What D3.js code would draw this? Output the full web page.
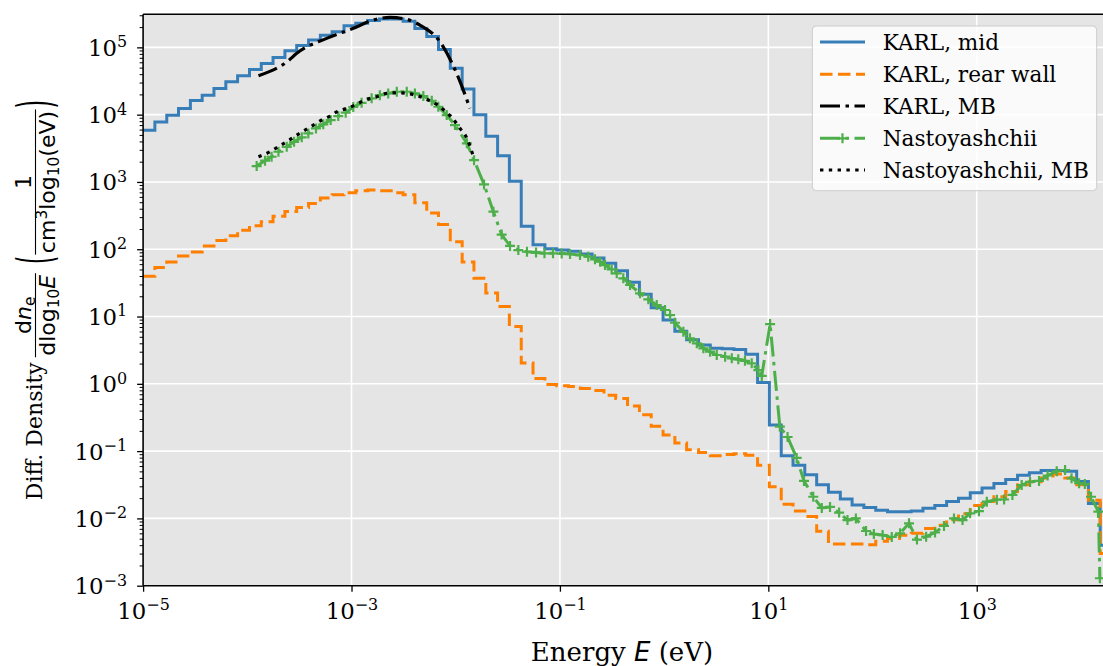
<!DOCTYPE html>
<html><head><meta charset="utf-8">
<script src="https://cdn.jsdelivr.net/npm/d3@7"></script>
<style>body{margin:0;background:#fff}</style>
</head><body><svg id="chart" width="1103" height="666" xmlns="http://www.w3.org/2000/svg"></svg>
<script>
// ---------------- DATA ----------------
// histogram bin edges (log10 of energy in eV)
const binEdgeExp = [-5.000,-4.887,-4.773,-4.660,-4.546,-4.433,-4.320,-4.206,-4.093,-3.979,-3.866,-3.753,-3.639,-3.526,-3.412,-3.299,-3.186,-3.072,-2.959,-2.845,-2.732,-2.619,-2.505,-2.392,-2.278,-2.165,-2.052,-1.938,-1.825,-1.711,-1.598,-1.485,-1.371,-1.258,-1.144,-1.031,-0.918,-0.804,-0.691,-0.577,-0.464,-0.351,-0.237,-0.124,-0.010,0.103,0.216,0.330,0.443,0.557,0.670,0.783,0.897,1.010,1.124,1.237,1.350,1.464,1.577,1.691,1.804,1.917,2.031,2.144,2.258,2.371,2.484,2.598,2.711,2.825,2.938,3.051,3.165,3.278,3.392,3.505,3.618,3.732,3.845,3.959,4.072,4.185,4.299];
// KARL, mid (per bin)
const karlMid = [5890,7760,9770,12300,16200,19500,24500,30900,38000,46800,57500,70800,89100,107000,129000,151000,170000,209000,229000,251000,263000,263000,245000,191000,145000,93300,49000,24000,10000,4790,2450,1020,219,117,102,97.7,93.3,85.1,74.1,61.7,47.9,32.4,21.4,13.5,8.91,6.03,4.52,3.78,3.39,3.31,3.24,2.75,1.05,0.245,0.0851,0.0617,0.0447,0.0316,0.0245,0.0195,0.0158,0.0145,0.0132,0.0126,0.0126,0.0129,0.0141,0.0155,0.0178,0.0200,0.0240,0.0282,0.0331,0.0380,0.0437,0.0479,0.0513,0.0513,0.0501,0.0355,0.0166,0.004];
// KARL, rear wall (per bin)
const karlRear = [39.8,53.7,64.6,79.4,91.2,112,135,158,191,224,257,309,363,417,479,575,646,692,741,759,741,692,646,490,347,234,129,64.6,37.2,22.4,14.1,7.08,2.04,1.20,0.977,0.933,0.912,0.851,0.794,0.676,0.603,0.468,0.347,0.234,0.174,0.132,0.105,0.0955,0.0851,0.0891,0.0912,0.0871,0.0617,0.0295,0.0162,0.0129,0.0107,0.00646,0.00417,0.00417,0.00417,0.00407,0.00457,0.00501,0.00562,0.00603,0.00708,0.00794,0.00955,0.0117,0.0155,0.0178,0.0209,0.0251,0.0316,0.0351,0.0398,0.0457,0.0398,0.0316,0.0186,0.003];
// Nastoyashchii
const nastE = [1.23e-4,1.48e-4,1.71e-4,1.99e-4,2.39e-4,2.81e-4,3.33e-4,3.85e-4,4.56e-4,5.36e-4,6.31e-4,7.46e-4,8.79e-4,1.04e-3,1.25e-3,1.56e-3,1.87e-3,2.25e-3,2.72e-3,3.39e-3,4.06e-3,4.89e-3,5.89e-3,6.81e-3,8.20e-3,9.84e-3,1.28e-2,1.50e-2,1.87e-2,2.30e-2,2.76e-2,3.32e-2,3.99e-2,4.83e-2,5.90e-2,7.11e-2,8.59e-2,0.104,0.125,0.156,0.187,0.217,0.243,0.271,0.314,0.351,0.406,0.471,0.587,0.705,0.849,1.02,1.14,1.27,1.53,1.77,2.06,2.38,2.76,3.20,3.85,4.46,5.15,5.97,6.93,8.02,8.65,10.4,12.9,15.3,18.7,22.0,27.0,32.6,39.1,47.8,57.5,69.2,86.7,103,125,153,184,224,267,327,398,485,605,731,863,1050,1250,1560,1830,2200,2700,3250,3960,4790,5860,7050,8130,9600,10900,12500,14700,15200];
const nastV = [1720,2070,2370,2810,3330,3950,4600,5270,6250,7180,8320,9530,10700,13000,15000,17500,19500,20700,21900,21900,20700,18900,16100,13100,9860,7000,3750,2110,920,361,165,112,97.3,91.8,89.3,86.9,86.9,86.3,84.9,82.0,77.4,70.8,65.2,58.2,50.2,43.9,37.0,29.4,22.1,18.0,14.8,12.5,10.5,8.09,5.94,4.74,4.00,3.37,3.00,2.68,2.53,2.39,2.31,2.20,2.02,1.60,1.31,7.73,0.231,0.162,0.0791,0.0360,0.0210,0.0143,0.0148,0.0122,0.00946,0.0100,0.00650,0.00586,0.00566,0.00530,0.00601,0.00845,0.00485,0.00535,0.00617,0.00771,0.00998,0.00946,0.0119,0.0128,0.0177,0.0190,0.0191,0.0223,0.0313,0.0348,0.0360,0.0434,0.0502,0.0524,0.0394,0.0333,0.0324,0.0210,0.0126,0.00129];
// KARL, MB
const karlMbE = [1.28e-4,2.47e-4,2.98e-4,5.78e-4,1.03e-3,1.62e-3,2.34e-3,3.39e-3,4.54e-3,7.06e-3,1.02e-2,1.37e-2];
const karlMbV = [3.78e4,6.31e4,8.15e4,1.36e5,1.91e5,2.55e5,2.79e5,2.61e5,2.14e5,1.21e5,4.11e4,1.24e4];
// Nastoyashchii, MB
const nastMbE = [1.28e-4,1.65e-4,1.98e-4,2.47e-4,2.98e-4,3.58e-4,4.30e-4,5.18e-4,6.22e-4,7.21e-4,8.99e-4,1.08e-3,1.35e-3,1.75e-3,2.18e-3,2.72e-3,3.39e-3,4.38e-3,5.46e-3,6.58e-3,7.89e-3,9.48e-3,1.10e-2,1.28e-2,1.48e-2];
const nastMbV = [2370,2810,3330,4090,4980,5900,7000,8320,9530,11000,12400,13900,16500,18500,20700,21100,20700,18900,16500,14200,11300,8510,6250,4450,2370];
// ticks & legend
const xTickExp = [-5,-3,-1,1,3];
const yTickExp = [-3,-2,-1,0,1,2,3,4,5];
const legendLabels = ["KARL, mid","KARL, rear wall","KARL, MB","Nastoyashchii","Nastoyashchii, MB"];

// ---------------- CHART ----------------
const C = {blue:"#377eb8", orange:"#ff7f00", green:"#4daf4a", black:"#000"};
const SERIF = "'DejaVu Serif', serif";
const SANS = "'DejaVu Sans', sans-serif";
const FS = 22;        // y-label
const TFS = 22.8;     // tick labels
const LFS = 21.6;     // legend
const XFS = 26;       // x-label

const svg = d3.select("#chart");
const L = 143.1, T = 14.3, B = 585.7, R = 1112.3;
const x = d3.scaleLog().domain([1e-5, 2e4]).range([L, R]);
const y = d3.scaleLog().domain([1e-3, 3.1e5]).range([B, T]);

svg.append("rect").attr("x",0).attr("y",0).attr("width",1103).attr("height",666).attr("fill","#fff");
svg.append("rect").attr("x",L).attr("y",T).attr("width",R-L).attr("height",B-T).attr("fill","#e5e5e5");

svg.append("defs").append("clipPath").attr("id","clip")
  .append("rect").attr("x",L).attr("y",T).attr("width",R-L).attr("height",B-T);

// grid
const grid = svg.append("g");
grid.selectAll("line.gx").data(xTickExp.map(e=>Math.pow(10,e))).join("line")
  .attr("x1",d=>x(d)).attr("x2",d=>x(d)).attr("y1",T).attr("y2",B)
  .attr("stroke","#fff").attr("stroke-width",1.6);
grid.selectAll("line.gy").data(yTickExp.map(e=>Math.pow(10,e))).join("line")
  .attr("y1",d=>y(d)).attr("y2",d=>y(d)).attr("x1",L).attr("x2",R)
  .attr("stroke","#fff").attr("stroke-width",1.6);

const plot = svg.append("g").attr("clip-path","url(#clip)");
const edges = binEdgeExp.map(e=>Math.pow(10,e));
function stepPts(vals){
  const pts = vals.map((v,i)=>[edges[i], v]);
  pts.push([edges[vals.length], vals[vals.length-1]]);
  return pts;
}
const stepLine = d3.line().x(d=>x(d[0])).y(d=>y(d[1])).curve(d3.curveStepAfter);
const smooth = d3.line().x(d=>x(d[0])).y(d=>y(d[1])).curve(d3.curveMonotoneX);
const plain = d3.line().x(d=>x(d[0])).y(d=>y(d[1]));

const DASH = "12.5,5.5", DASHDOT = "20,5.5,3.5,5.5", DOT = "3.4,5.4";

plot.append("path").attr("d", stepLine(stepPts(karlMid)))
  .attr("fill","none").attr("stroke",C.blue).attr("stroke-width",3);
plot.append("path").attr("d", stepLine(stepPts(karlRear)))
  .attr("fill","none").attr("stroke",C.orange).attr("stroke-width",3).attr("stroke-dasharray",DASH);
plot.append("path").attr("d", smooth(karlMbE.map((e,i)=>[e,karlMbV[i]])))
  .attr("fill","none").attr("stroke",C.black).attr("stroke-width",3.2).attr("stroke-dasharray",DASHDOT);
const nastPts = nastE.map((e,i)=>[e,nastV[i]]);
plot.append("path").attr("d", plain(nastPts))
  .attr("fill","none").attr("stroke",C.green).attr("stroke-width",3).attr("stroke-dasharray",DASHDOT);
const plus = "M-5,0H5M0,-5V5";
plot.selectAll("path.mk").data(nastPts).join("path")
  .attr("d",plus).attr("transform",d=>`translate(${x(d[0])},${y(d[1])})`)
  .attr("stroke",C.green).attr("stroke-width",2.2).attr("fill","none");
plot.append("path").attr("d", smooth(nastMbE.map((e,i)=>[e,nastMbV[i]])))
  .attr("fill","none").attr("stroke",C.black).attr("stroke-width",3.2).attr("stroke-dasharray",DOT);

// spines
svg.append("line").attr("x1",L).attr("x2",L).attr("y1",T).attr("y2",B).attr("stroke","#000").attr("stroke-width",1.6);
svg.append("line").attr("x1",L).attr("x2",R).attr("y1",B).attr("y2",B).attr("stroke","#000").attr("stroke-width",1.6);
svg.append("line").attr("x1",L).attr("x2",R).attr("y1",T).attr("y2",T).attr("stroke","#000").attr("stroke-width",1.6);

// axes
const supLabel = (sel, e) => {
  sel.text(null);
  sel.append("tspan").text("10");
  sel.append("tspan").attr("dy",-TFS*0.38).attr("font-size",TFS*0.7).text(e<0 ? "\u2212"+Math.abs(e) : String(e));
};
const xAx = svg.append("g").attr("transform",`translate(0,${B})`)
  .call(d3.axisBottom(x).tickValues(xTickExp.map(e=>Math.pow(10,e))).tickSizeInner(6).tickSizeOuter(0).tickPadding(10).tickFormat(""));
xAx.select(".domain").remove();
xAx.selectAll(".tick line").attr("stroke","#000").attr("stroke-width",1.3);
xAx.selectAll(".tick text").each(function(d,i){
  const s = d3.select(this).attr("font-family",SERIF).attr("font-size",TFS).attr("fill","#000").attr("y",33).attr("dy",0);
  supLabel(s, xTickExp[i]);
});

const yAx = svg.append("g").attr("transform",`translate(${L},0)`)
  .call(d3.axisLeft(y).tickValues(yTickExp.map(e=>Math.pow(10,e))).tickSizeInner(6).tickSizeOuter(0).tickPadding(10).tickFormat(""));
yAx.select(".domain").remove();
yAx.selectAll(".tick line").attr("stroke","#000").attr("stroke-width",1.3);
yAx.selectAll(".tick text").each(function(d,i){
  const s = d3.select(this).attr("font-family",SERIF).attr("font-size",TFS).attr("fill","#000").attr("x",-16).attr("dy",0).attr("y",8).attr("text-anchor","end");
  supLabel(s, yTickExp[i]);
});
const minors = [];
yTickExp.slice(0,-1).forEach(e=>{ for(let m=2;m<10;m++) minors.push(m*Math.pow(10,e)); });
for(let m=2;m<4;m++) minors.push(m*1e5);
const yMin = svg.append("g").attr("transform",`translate(${L},0)`)
  .call(d3.axisLeft(y).tickValues(minors).tickSizeInner(3.5).tickSizeOuter(0).tickFormat(""));
yMin.select(".domain").remove();
yMin.selectAll(".tick line").attr("stroke","#000").attr("stroke-width",1);

// x label
const xl = svg.append("text").attr("x",622).attr("y",661).attr("text-anchor","middle")
  .attr("font-family",SERIF).attr("font-size",XFS).attr("fill","#000");
xl.append("tspan").text("Energy ");
xl.append("tspan").attr("font-family",SANS).attr("font-style","italic").text("E");
xl.append("tspan").text(" (eV)");

// y label (rotated)
const yl = svg.append("g");
const inner = yl.append("g");
let cx = 0;
const t1 = inner.append("text").attr("x",0).attr("y",42).attr("font-family",SERIF).attr("font-size",FS).text("Diff. Density");
cx += t1.node().getComputedTextLength() + 5;
const BAR = 35.5;
function frac(x0, numFn, denFn){
  const num = inner.append("text").attr("font-family",SANS).attr("font-size",FS).attr("y",BAR-5);
  numFn(num);
  const den = inner.append("text").attr("font-family",SANS).attr("font-size",FS).attr("y",BAR+19.5);
  denFn(den);
  const wn = num.node().getComputedTextLength(), wd = den.node().getComputedTextLength();
  const w = Math.max(wn,wd) + 3;
  num.attr("x", x0 + (w-wn)/2);
  den.attr("x", x0 + (w-wd)/2);
  inner.append("line").attr("x1",x0).attr("x2",x0+w).attr("y1",BAR).attr("y2",BAR).attr("stroke","#000").attr("stroke-width",1.1);
  return w;
}
cx += frac(cx, n=>{
  n.append("tspan").text("d");
  n.append("tspan").attr("font-style","italic").text("n");
  n.append("tspan").attr("font-size",FS*0.7).attr("dy",4).text("e");
}, d=>{
  d.append("tspan").text("dlog");
  d.append("tspan").attr("font-size",FS*0.7).attr("dy",4).text("10");
  d.append("tspan").attr("font-style","italic").attr("dy",-4).text("E");
}) + 9;
function paren(x0, ch){
  const g = inner.append("g").attr("transform",`translate(0,${BAR+2}) scale(1,2.15)`);
  const t = g.append("text").attr("x",x0).attr("y",6.9).attr("font-family",SANS).attr("font-size",22).text(ch);
  return t.node().getComputedTextLength();
}
cx += paren(cx,"(") + 1;
cx += frac(cx, n=>{ n.text("1"); }, d=>{
  d.append("tspan").text("cm");
  d.append("tspan").attr("font-size",FS*0.7).attr("dy",-8).text("3");
  d.append("tspan").attr("dy",8).text("log");
  d.append("tspan").attr("font-size",FS*0.7).attr("dy",4).text("10");
  d.append("tspan").attr("dy",-4).text("(eV)");
}) + 1;
cx += paren(cx,")");
yl.attr("transform",`rotate(-90) translate(${-300 - cx/2},0)`);

// legend
const lg = svg.append("g");
lg.append("rect").attr("x",812.3).attr("y",26).attr("width",284.4).attr("height",164.7).attr("rx",4)
  .attr("fill","#fff").attr("fill-opacity",0.8).attr("stroke","#cccccc").attr("stroke-width",1);
const legStyles = [
  {c:C.blue, dash:null},
  {c:C.orange, dash:DASH},
  {c:C.black, dash:DASHDOT},
  {c:C.green, dash:DASHDOT, mk:true},
  {c:C.black, dash:DOT}
];
const rowY = [42, 74.3, 106, 138.3, 170];
legendLabels.forEach((lab,i)=>{
  const s = legStyles[i], yy = rowY[i];
  const ln = lg.append("line").attr("x1",820).attr("x2",865).attr("y1",yy).attr("y2",yy)
    .attr("stroke",s.c).attr("stroke-width",3);
  if (s.dash) ln.attr("stroke-dasharray",s.dash);
  if (s.mk) lg.append("path").attr("d",plus).attr("transform",`translate(842.5,${yy})`).attr("stroke",s.c).attr("stroke-width",2.2);
  lg.append("text").attr("x",882.7).attr("y",yy+7.5).attr("font-family",SERIF).attr("font-size",LFS).attr("fill","#000").text(lab);
});
</script>
</body></html>
